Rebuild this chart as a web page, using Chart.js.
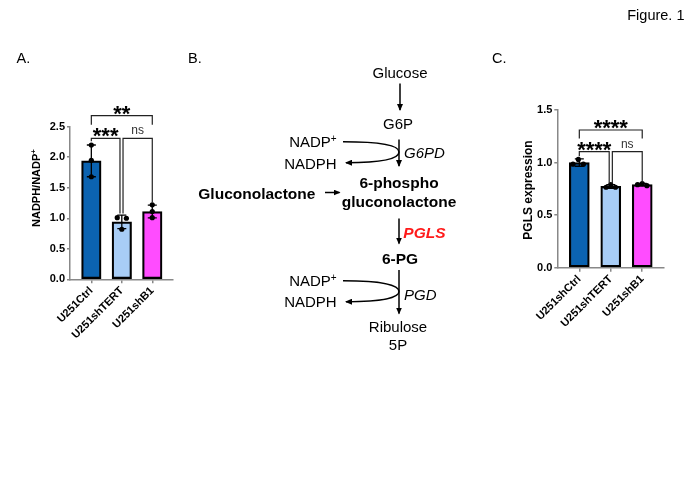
<!DOCTYPE html>
<html>
<head>
<meta charset="utf-8">
<script src="https://cdn.jsdelivr.net/npm/chart.js@4.4.0/dist/chart.umd.min.js"></script>
<style>
  body { margin: 0; background: #fff; width: 692px; height: 479px; position: relative; overflow: hidden; }
  canvas { position: absolute; }
  #overlay { position: absolute; left: 0; top: 0; pointer-events: none; }
  text { font-family: "Liberation Sans", Arial, sans-serif; fill: #000; }
</style>
</head>
<body>
<canvas id="chartA" width="185" height="270" style="left:0px;top:90px;width:185px;height:270px"></canvas>
<canvas id="chartC" width="200" height="270" style="left:480px;top:90px;width:200px;height:270px"></canvas>

<svg id="overlay" width="692" height="479">
  <defs>
    <marker id="ah" markerWidth="7" markerHeight="6" refX="6" refY="3" orient="auto" markerUnits="userSpaceOnUse">
      <path d="M0,0 L7,3 L0,6 z" fill="#000"/>
    </marker>
  </defs>
  <text x="684.5" y="19.5" font-size="14.5" text-anchor="end">Figure. 1</text>
  <text x="16.5" y="63" font-size="14.5">A.</text>
  <text x="188" y="63" font-size="14.5">B.</text>
  <text x="492" y="63" font-size="14.5">C.</text>

  <!-- axis titles -->
  <text x="36" y="188" font-size="11" font-weight="bold" text-anchor="middle" dominant-baseline="central" transform="rotate(-90 36 188)">NADPH/NADP<tspan font-size="8" dy="-3">+</tspan></text>
  <text x="528" y="190" font-size="12" font-weight="bold" text-anchor="middle" dominant-baseline="central" transform="rotate(-90 528 190)">PGLS expression</text>

  <!-- pathway -->
  <g stroke="#000" stroke-width="1.5" fill="none">
    <path d="M400,83.5 V110" marker-end="url(#ah)"/>
    <path d="M399,139.5 V166" marker-end="url(#ah)"/>
    <path d="M399,218.5 V243.5" marker-end="url(#ah)"/>
    <path d="M399,270 V313.5" marker-end="url(#ah)"/>
    <path d="M325,192.5 H339.5" marker-end="url(#ah)"/>
    <path d="M343,141.7 C386,141.7 399,146 399,152 C399,158 386,162.7 346,162.7" marker-end="url(#ah)"/>
    <path d="M343,280.7 C386,280.7 399,286 399,291.5 C399,297 386,301.7 346,301.7" marker-end="url(#ah)"/>
  </g>
  <text x="400" y="77.7" font-size="15" text-anchor="middle">Glucose</text>
  <text x="398" y="128.7" font-size="15" text-anchor="middle">G6P</text>
  <text x="336.7" y="147.1" font-size="15" text-anchor="end">NADP<tspan font-size="10" dy="-5">+</tspan></text>
  <text x="336.7" y="168.7" font-size="15" text-anchor="end">NADPH</text>
  <text x="404" y="158.1" font-size="15" font-style="italic">G6PD</text>
  <text x="399" y="188" font-size="15.5" font-weight="bold" text-anchor="middle">6-phospho</text>
  <text x="399" y="207" font-size="15.5" font-weight="bold" text-anchor="middle">gluconolactone</text>
  <text x="198.3" y="199.4" font-size="15.5" font-weight="bold">Gluconolactone</text>
  <text x="403.3" y="237.7" font-size="15.5" font-weight="bold" font-style="italic" style="fill:#ff1a1a">PGLS</text>
  <text x="400" y="264.4" font-size="15.5" font-weight="bold" text-anchor="middle">6-PG</text>
  <text x="336.7" y="286.1" font-size="15" text-anchor="end">NADP<tspan font-size="10" dy="-5">+</tspan></text>
  <text x="336.7" y="307.1" font-size="15" text-anchor="end">NADPH</text>
  <text x="404" y="300.4" font-size="15" font-style="italic">PGD</text>
  <text x="398" y="332.1" font-size="15" text-anchor="middle">Ribulose</text>
  <text x="398" y="350.4" font-size="15" text-anchor="middle">5P</text>
</svg>

<script>
// ---- panel A: NADPH/NADP+ ratio ----
const categoriesA = ['U251Ctrl', 'U251shTERT', 'U251shB1'];
const meansA = [1.94, 0.94, 1.11];
const sdA = [0.26, 0.11, 0.105];
const pointsA = [[2.20, 1.95, 1.68], [1.01, 1.00, 0.82], [1.22, 1.11, 1.01]];
const jitterA = [[0, 0, 0], [-0.15, 0.15, 0], [0, 0, 0]];
const yTicksA = [0, 0.5, 1.0, 1.5, 2.0, 2.5];
const sigTextA = ['**', '***', 'ns'];

// ---- panel C: PGLS expression ----
const categoriesC = ['U251shCtrl', 'U251shTERT', 'U251shB1'];
const meansC = [1.0, 0.773, 0.79];
const sdC = [0.035, 0.018, 0.012];
const pointsC = [[1.03, 0.985, 0.985], [0.79, 0.765, 0.765], [0.80, 0.79, 0.78]];
const jitterC = [[-0.03, -0.2, 0.13], [0, -0.15, 0.15], [0, -0.15, 0.15]];
const yTicksC = [0, 0.5, 1.0, 1.5];
const sigTextC = ['****', '****', 'ns'];

const barColors = ['#0b63b1', '#a8cdf6', '#ff4cff'];

Chart.defaults.font.family = '"Liberation Sans", Arial, sans-serif';
Chart.defaults.color = '#000';

// brackets: [x from, x to, line level, left drop end, right drop end]
const bracketsA = [
  [0, 2, 2.68, 2.53, 2.53],
  [0, 0.94, 2.31, 2.26, 1.08],
  [1.04, 2, 2.31, 1.08, 1.26]
];
const bracketsC = [
  [0, 2, 1.31, 1.23, 1.23],
  [0, 0.95, 1.105, 1.06, 0.80],
  [1.05, 2, 1.105, 0.80, 0.81]
];

const sigPlugin = {
  id: 'sig',
  afterDatasetsDraw(chart, args, opts) {
    const ctx = chart.ctx;
    const x = chart.scales.x, y = chart.scales.y;
    ctx.save();
    // error bars (mean +/- SD)
    ctx.strokeStyle = '#000';
    ctx.lineWidth = 1.3;
    opts.means.forEach((m, i) => {
      const px = x.getPixelForValue(i);
      const top = y.getPixelForValue(m + opts.sd[i]);
      const bot = y.getPixelForValue(m - opts.sd[i]);
      ctx.beginPath();
      ctx.moveTo(px, top); ctx.lineTo(px, bot);
      ctx.moveTo(px - 4.5, top); ctx.lineTo(px + 4.5, top);
      ctx.moveTo(px - 4.5, bot); ctx.lineTo(px + 4.5, bot);
      ctx.stroke();
    });
    // significance brackets
    ctx.strokeStyle = '#222';
    ctx.lineWidth = 1.2;
    opts.brackets.forEach((b, i) => {
      const x1 = x.getPixelForValue(b[0]), x2 = x.getPixelForValue(b[1]);
      const ly = y.getPixelForValue(b[2]);
      ctx.beginPath();
      ctx.moveTo(x1, y.getPixelForValue(b[3]));
      ctx.lineTo(x1, ly); ctx.lineTo(x2, ly);
      ctx.lineTo(x2, y.getPixelForValue(b[4]));
      ctx.stroke();
      const t = opts.text[i];
      const cx = (x1 + x2) / 2;
      ctx.textAlign = 'center';
      ctx.textBaseline = 'alphabetic';
      if (t === 'ns') {
        ctx.fillStyle = '#333';
        ctx.font = '12px "Liberation Sans", Arial, sans-serif';
        ctx.fillText(t, cx, ly - 4);
      } else {
        ctx.fillStyle = '#000';
        ctx.font = 'bold 22px "Liberation Sans", Arial, sans-serif';
        ctx.fillText(t, cx, ly + 5);
      }
    });
    ctx.restore();
  }
};

function drawPanel(id, cats, means, sd, pts, jit, yTicks, yMax, sigText, brackets, box) {
  const scatter = [];
  pts.forEach((arr, i) => arr.forEach((v, j) => scatter.push({ x: i + jit[i][j], y: v })));

  new Chart(document.getElementById(id).getContext('2d'), {
    type: 'bar',
    data: {
      datasets: [{
        type: 'scatter',
        data: scatter,
        backgroundColor: '#000',
        borderWidth: 0,
        pointRadius: 2.6,
        order: 1
      }, {
        type: 'bar',
        data: means.map((m, i) => ({ x: i, y: m })),
        backgroundColor: barColors,
        borderColor: '#000',
        borderWidth: 2.2,
        borderSkipped: false,
        barThickness: box.bar,
        order: 2
      }]
    },
    options: {
      responsive: false,
      animation: false,
      layout: { padding: { top: box.top, right: box.right, bottom: 0, left: 0 } },
      plugins: {
        legend: { display: false },
        tooltip: { enabled: false },
        sig: { means: means, sd: sd, brackets: brackets, text: sigText }
      },
      scales: {
        x: {
          type: 'linear',
          min: -0.7,
          max: 2.67,
          offset: false,
          afterBuildTicks: s => { s.ticks = cats.map((c, i) => ({ value: i })); },
          afterFit: s => { s.height = box.xh; },
          ticks: {
            callback: v => cats[v],
            autoSkip: false,
            minRotation: 45,
            maxRotation: 45,
            padding: 1,
            font: { size: 11, weight: 'bold' }
          },
          grid: { offset: false, drawOnChartArea: false, tickLength: 4, color: '#888', lineWidth: 1.5 },
          border: { color: '#888', width: 1.5 }
        },
        y: {
          min: 0,
          max: yMax,
          afterBuildTicks: s => { s.ticks = yTicks.map(v => ({ value: v })); },
          afterFit: s => { s.width = box.yw; },
          ticks: {
            callback: v => v.toFixed(1),
            padding: 2,
            font: { size: 11, weight: 'bold' }
          },
          grid: { drawOnChartArea: false, tickLength: 3, color: '#888', lineWidth: 1.5 },
          border: { color: '#888', width: 1.5 }
        }
      }
    },
    plugins: [sigPlugin]
  });
}

drawPanel('chartA', categoriesA, meansA, sdA, pointsA, jitterA, yTicksA, 2.5, sigTextA, bracketsA,
  { top: 36.7, right: 12.3, xh: 80.7, yw: 70, bar: 19.5 });
drawPanel('chartC', categoriesC, meansC, sdC, pointsC, jitterC, yTicksC, 1.5, sigTextC, bracketsC,
  { top: 20, right: 16.7, xh: 92.3, yw: 77.3, bar: 20 });
</script>
</body>
</html>
